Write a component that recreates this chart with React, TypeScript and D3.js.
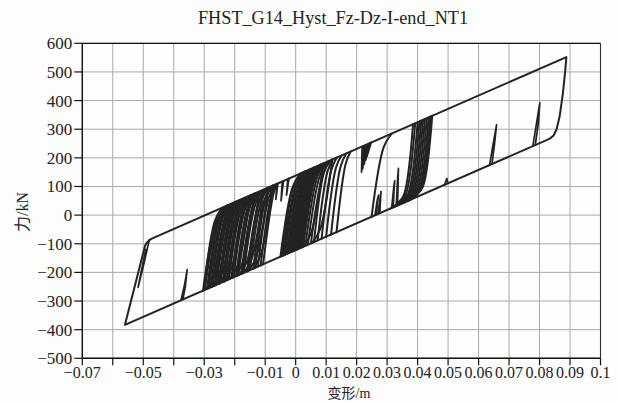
import React from "react";
import * as d3 from "d3";

type Pt = [number, number];

// axis ticks
const xTicks = [-0.07, -0.06, -0.05, -0.04, -0.03, -0.02, -0.01, 0, 0.01, 0.02, 0.03, 0.04, 0.05, 0.06, 0.07, 0.08, 0.09, 0.1];
const xTickLabels = ["−0.07", "", "−0.05", "", "−0.03", "", "−0.01", "0", "0.01", "0.02", "0.03", "0.04", "0.05", "0.06", "0.07", "0.08", "0.09", "0.1"];
const yTicks = [-500, -400, -300, -200, -100, 0, 100, 200, 300, 400, 500, 600];
const yTickLabels = ["−500", "−400", "−300", "−200", "−100", "0", "100", "200", "300", "400", "500", "600"];

// outer loop (displacement m, force kN)
const outerLoop: Pt[] = [
  [-0.056, -383], [-0.0494, -106], [-0.0488, -96], [-0.0481, -88], [-0.0472, -82],
  [0.0888, 552], [0.0884, 500], [0.0876, 420], [0.0866, 345], [0.0856, 300],
  [0.0846, 278], [0.0835, 268], [0.0823, 262], [-0.056, -383],
];

// partial reversals off the outer lines
const spikes: Pt[][] = [
  [[-0.048, -86], [-0.0498, -170], [-0.0517, -252], [-0.051, -215], [-0.0492, -120]],
  [[-0.0376, -297], [-0.0364, -240], [-0.0356, -190], [-0.0362, -250], [-0.037, -294]],
  [[0.0488, 105], [0.0496, 128], [0.0499, 112]],
  [[0.0636, 174], [0.0648, 250], [0.0659, 315], [0.0652, 245], [0.0644, 178]],
  [[0.0778, 241], [0.079, 320], [0.0801, 392], [0.0796, 320], [0.0786, 245]],
];

const band1Rise: Pt[][] = [
  [[-0.0304, -264], [-0.0259, -18], [-0.0224, 34]],
  [[-0.0301, -262], [-0.0265, -20], [-0.0241, 26]],
  [[-0.0298, -261], [-0.0256, -16], [-0.023, 31]],
  [[-0.0291, -258], [-0.025, -14], [-0.0225, 33]],
  [[-0.0288, -256], [-0.0252, -14], [-0.0228, 32]],
  [[-0.0285, -255], [-0.0244, -11], [-0.0219, 36]],
  [[-0.0279, -252], [-0.0238, -8], [-0.0213, 39]],
  [[-0.0276, -251], [-0.024, -9], [-0.0216, 37]],
  [[-0.0272, -249], [-0.0231, -5], [-0.0206, 42]],
  [[-0.0266, -246], [-0.0226, -2], [-0.0201, 44]],
  [[-0.0263, -245], [-0.0227, -3], [-0.0203, 43]],
  [[-0.026, -243], [-0.022, 0], [-0.0195, 47]],
  [[-0.0253, -240], [-0.0213, 4], [-0.0188, 50]],
  [[-0.025, -239], [-0.0214, 3], [-0.019, 49]],
  [[-0.0247, -237], [-0.0207, 7], [-0.0182, 53]],
  [[-0.024, -234], [-0.02, 10], [-0.0175, 56]],
  [[-0.0237, -232], [-0.0201, 9], [-0.0177, 56]],
  [[-0.0233, -231], [-0.0193, 13], [-0.0168, 60]],
  [[-0.0226, -227], [-0.0186, 16], [-0.0161, 63]],
  [[-0.0223, -226], [-0.0187, 16], [-0.0163, 62]],
  [[-0.0219, -224], [-0.0179, 20], [-0.0154, 66]],
  [[-0.0211, -220], [-0.0171, 23], [-0.0146, 70]],
  [[-0.0208, -219], [-0.0172, 23], [-0.0148, 69]],
  [[-0.0204, -217], [-0.0164, 27], [-0.0139, 73]],
  [[-0.0196, -213], [-0.0156, 30], [-0.0132, 77]],
  [[-0.0192, -211], [-0.0156, 30], [-0.0132, 76]],
  [[-0.0188, -210], [-0.0148, 34], [-0.0124, 80]],
  [[-0.0179, -205], [-0.0139, 38], [-0.0115, 84]],
  [[-0.0175, -204], [-0.0139, 38], [-0.0115, 84]],
  [[-0.017, -201], [-0.0131, 42], [-0.0107, 88]],
  [[-0.016, -197], [-0.0121, 47], [-0.0098, 92]],
  [[-0.0155, -194], [-0.0119, 48], [-0.0095, 94]],
  [[-0.015, -192], [-0.0112, 51], [-0.0089, 97]],
  [[-0.0139, -187], [-0.0102, 55], [-0.008, 101]],
  [[-0.0132, -184], [-0.0098, 57], [-0.0076, 103]],
  [[-0.0124, -180], [-0.0088, 62], [-0.0068, 106]],
  [[-0.0115, -176], [-0.0081, 65], [-0.0065, 108]],
  [[-0.0107, -172], [-0.0074, 69], [-0.0062, 109]],
];

const band1Fall: Pt[][] = [
  [[-0.0225, 33], [-0.0265, -210], [-0.029, -257]],
  [[-0.021, 40], [-0.025, -204], [-0.0275, -250]],
  [[-0.02, 45], [-0.024, -199], [-0.0265, -245]],
  [[-0.0185, 52], [-0.0225, -192], [-0.025, -239]],
  [[-0.017, 59], [-0.021, -185], [-0.0235, -232]],
  [[-0.015, 68], [-0.019, -176], [-0.0215, -222]],
  [[-0.0135, 75], [-0.0175, -169], [-0.02, -215]],
  [[-0.012, 82], [-0.016, -162], [-0.0185, -208]],
  [[-0.0105, 89], [-0.0145, -155], [-0.017, -201]],
  [[-0.009, 96], [-0.013, -148], [-0.0155, -194]],
  [[-0.0075, 103], [-0.0115, -141], [-0.014, -187]],
];

const band2Rise: Pt[][] = [
  [[-0.005, -145], [-0.001, 98], [0.0015, 145]],
  [[-0.0045, -143], [-0.0007, 100], [0.0017, 146]],
  [[-0.004, -141], [0.0, 103], [0.0025, 150]],
  [[-0.0035, -138], [0.0003, 104], [0.0027, 151]],
  [[-0.003, -136], [0.001, 108], [0.0035, 154]],
  [[-0.0026, -134], [0.0012, 109], [0.0036, 155]],
  [[-0.0022, -132], [0.0018, 111], [0.0043, 158]],
  [[-0.0018, -130], [0.002, 112], [0.0044, 159]],
  [[-0.0015, -129], [0.0025, 115], [0.005, 161]],
  [[-0.0011, -127], [0.0027, 116], [0.0051, 162]],
  [[-0.0008, -126], [0.0032, 118], [0.0057, 165]],
  [[-0.0004, -124], [0.0034, 119], [0.0058, 165]],
  [[0.0, -122], [0.004, 122], [0.0065, 168]],
  [[0.0003, -121], [0.0041, 122], [0.0065, 168]],
  [[0.0006, -119], [0.0046, 124], [0.0071, 171]],
  [[0.0009, -118], [0.0047, 125], [0.0071, 171]],
  [[0.0012, -116], [0.0052, 127], [0.0077, 174]],
  [[0.0015, -115], [0.0053, 128], [0.0077, 174]],
  [[0.0018, -114], [0.0058, 130], [0.0083, 177]],
  [[0.0021, -112], [0.0059, 130], [0.0083, 177]],
  [[0.0025, -110], [0.0065, 133], [0.009, 180]],
  [[0.0032, -107], [0.0072, 137], [0.0097, 183]],
  [[0.004, -103], [0.008, 140], [0.0105, 187]],
  [[0.005, -99], [0.009, 145], [0.0115, 192]],
  [[0.006, -94], [0.0092, 146], [0.011, 189]],
  [[0.0072, -88], [0.0104, 151], [0.0122, 195]],
  [[0.0085, -82], [0.0117, 158], [0.0135, 201]],
  [[0.01, -75], [0.0132, 165], [0.015, 208]],
  [[0.0116, -68], [0.0148, 172], [0.0166, 215]],
  [[0.0134, -60], [0.0164, 179], [0.018, 222]],
];

const band2Fall: Pt[][] = [
  [[0.003, 152], [-0.001, -92], [-0.0035, -138]],
  [[0.006, 166], [0.002, -78], [-0.0005, -124]],
  [[0.009, 180], [0.005, -64], [0.0025, -110]],
  [[0.012, 194], [0.008, -50], [0.0055, -96]],
];

const band2Partial: Pt[][] = [
  [[-0.008, 101], [-0.0082, 45], [-0.0076, 103]],
  [[-0.0062, 109], [-0.0065, 55], [-0.0058, 111]],
  [[-0.0044, 117], [-0.0048, 50], [-0.004, 119]],
  [[-0.0026, 126], [-0.003, 70], [-0.0022, 128]],
  [[-0.0045, -143], [-0.003, -20], [-0.0025, 15], [-0.0028, -30], [-0.0038, -139]],
];

const band3Rise: Pt[][] = [
  [[0.0249, -6], [0.0289, 238], [0.0314, 284]],
];

const band3Fall: Pt[][] = [
  [[0.0385, 317], [0.0355, 71], [0.0335, 42], [0.031, 22]],
  [[0.0392, 321], [0.0362, 75], [0.0342, 45], [0.0317, 26]],
  [[0.04, 324], [0.037, 78], [0.035, 49], [0.0325, 29]],
  [[0.0406, 327], [0.0376, 81], [0.0356, 52], [0.0331, 32]],
  [[0.0412, 330], [0.0382, 84], [0.0362, 55], [0.0337, 35]],
  [[0.0418, 333], [0.0388, 87], [0.0368, 57], [0.0343, 38]],
  [[0.0424, 336], [0.0394, 90], [0.0374, 60], [0.0349, 41]],
  [[0.043, 338], [0.04, 92], [0.038, 63], [0.0355, 43]],
  [[0.0436, 341], [0.0406, 95], [0.0386, 66], [0.0361, 46]],
  [[0.0441, 344], [0.0411, 98], [0.0391, 68], [0.0366, 49]],
  [[0.0445, 345], [0.0415, 99], [0.0395, 70], [0.037, 50]],
  [[0.0448, 347], [0.0418, 101], [0.0398, 71], [0.0373, 52]],
];

const band3Partial: Pt[][] = [
  [[0.0218, 240], [0.0216, 150], [0.0224, 242]],
  [[0.0224, 242], [0.022, 162], [0.023, 245]],
  [[0.023, 245], [0.0225, 178], [0.0236, 248]],
  [[0.0236, 248], [0.023, 192], [0.0242, 251]],
  [[0.0242, 251], [0.0234, 206], [0.0248, 254]],
  [[0.026, -1], [0.0268, 55], [0.0272, 70], [0.0268, 40], [0.0265, 2]],
  [[0.027, 4], [0.0277, 60], [0.028, 82], [0.0278, 50], [0.0276, 7]],
  [[0.0315, 25], [0.0322, 100], [0.0325, 120], [0.0323, 90], [0.032, 27]],
  [[0.033, 32], [0.0334, 120], [0.0337, 163], [0.0336, 110], [0.0334, 34]],
];

export default function App() {
  const W = 620;
  const H = 403;
  const m = { left: 82.3, right: 600.5, top: 43.3, bottom: 358.3 };

  const x = d3.scaleLinear().domain([-0.07, 0.1]).range([m.left, m.right]);
  const y = d3.scaleLinear().domain([-500, 600]).range([m.bottom, m.top]);

  const straight = d3.line<Pt>().x((d) => x(d[0])).y((d) => y(d[1]));
  const smooth = d3
    .line<Pt>()
    .x((d) => x(d[0]))
    .y((d) => y(d[1]))
    .curve(d3.curveCatmullRom.alpha(0.5));

  const ink = "#232323";
  const grid = "#aca8a8";
  const serif = "'Liberation Serif', 'Times New Roman', Tinos, 'DejaVu Serif', 'Noto Serif', serif";
  const cjk = "'Noto Sans CJK SC'";

  const smoothSets = [band1Rise, band1Fall, band2Rise, band2Fall, band3Rise, band3Fall];
  const straightSets = [spikes, band2Partial, band3Partial];

  return (
    <svg
      width={W}
      height={H}
      style={{ position: "absolute", left: 0, top: 0, background: "#fdfdfd" }}
    >
      <rect x={0} y={0} width={W} height={H} fill="#fdfdfd" />

      {/* grid */}
      {xTicks.map((t, i) => (
        <line key={"gx" + i} x1={x(t)} x2={x(t)} y1={m.top} y2={m.bottom} stroke={grid} strokeWidth={1} />
      ))}
      {yTicks.map((t, i) => (
        <line key={"gy" + i} x1={m.left} x2={m.right} y1={y(t)} y2={y(t)} stroke={grid} strokeWidth={1} />
      ))}

      {/* curves */}
      <g fill="none" stroke={ink} strokeLinejoin="round" strokeLinecap="round">
        {smoothSets.map((set, si) =>
          set.map((b, i) => <path key={"s" + si + "-" + i} d={smooth(b) || ""} strokeWidth={2} />)
        )}
        {straightSets.map((set, si) =>
          set.map((b, i) => <path key={"l" + si + "-" + i} d={straight(b) || ""} strokeWidth={1.7} />)
        )}
        <path d={straight(outerLoop) || ""} strokeWidth={2} />
      </g>

      {/* frame */}
      <line x1={m.left} x2={m.right} y1={m.top} y2={m.top} stroke="#111" strokeWidth={1.3} />
      <line x1={m.right} x2={m.right} y1={m.top} y2={m.bottom} stroke="#333" strokeWidth={1.1} />

      {/* axes */}
      <line x1={m.left} x2={m.left} y1={m.top} y2={m.bottom} stroke="#111" strokeWidth={1.4} />
      <line x1={m.left} x2={m.right} y1={m.bottom} y2={m.bottom} stroke="#111" strokeWidth={1.4} />
      {xTicks.map((t, i) => (
        <g key={"xt" + i}>
          <line x1={x(t)} x2={x(t)} y1={m.bottom} y2={m.bottom + 7} stroke="#111" strokeWidth={1.2} />
          <text
            x={x(t)}
            y={m.bottom + 19.5}
            textAnchor="middle"
            fontFamily={serif}
            fontSize={16}
            fill="#222"
          >
            {xTickLabels[i]}
          </text>
        </g>
      ))}
      {yTicks.map((t, i) => (
        <g key={"yt" + i}>
          <line x1={m.left - 8} x2={m.left} y1={y(t)} y2={y(t)} stroke="#111" strokeWidth={1.2} />
          <text
            x={m.left - 10}
            y={y(t)}
            dy="0.35em"
            textAnchor="end"
            fontFamily={serif}
            fontSize={17}
            fill="#222"
          >
            {yTickLabels[i]}
          </text>
        </g>
      ))}

      {/* titles */}
      <text
        x={333}
        y={24}
        textAnchor="middle"
        fontFamily={serif}
        fontSize={18}
        textLength={270}
        lengthAdjust="spacingAndGlyphs"
        fill="#222"
      >
        FHST_G14_Hyst_Fz-Dz-I-end_NT1
      </text>
      <text x={349} y={398} textAnchor="middle" fontFamily={serif} fontSize={14} fill="#222">
        <tspan fontFamily={cjk}>变形</tspan>/m
      </text>
      <text
        transform={`translate(28,212) rotate(-90)`}
        textAnchor="middle"
        fontFamily={serif}
        fontSize={16}
        fill="#222"
      >
        <tspan fontFamily={cjk}>力</tspan>/kN
      </text>
    </svg>
  );
}
